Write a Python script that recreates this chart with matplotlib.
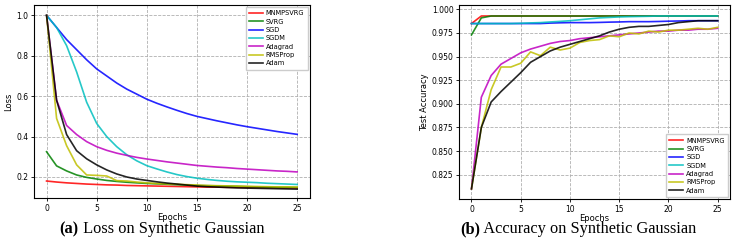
import numpy as np
import matplotlib
matplotlib.use("Agg")
import matplotlib.pyplot as plt

# epochs 0..25, values
epochs = list(range(26))
methods = ["MNMPSVRG", "SVRG", "SGD", "SGDM", "Adagrad", "RMSProp", "Adam"]
colors = ["r", "g", "b", "c", "m", "y", "k"]

loss_mnmpsvrg = [0.180, 0.175, 0.171, 0.168, 0.165, 0.163, 0.161, 0.160, 0.158, 0.157,
                 0.156, 0.155, 0.154, 0.153, 0.152, 0.151, 0.150, 0.150, 0.149, 0.149,
                 0.148, 0.148, 0.147, 0.147, 0.146, 0.146]
loss_svrg = [0.325, 0.255, 0.230, 0.210, 0.198, 0.190, 0.183, 0.178, 0.174, 0.171,
             0.168, 0.166, 0.164, 0.162, 0.160, 0.158, 0.157, 0.156, 0.155, 0.154,
             0.152, 0.151, 0.150, 0.149, 0.149, 0.148]
loss_sgd = [1.000, 0.940, 0.880, 0.830, 0.780, 0.735, 0.700, 0.665, 0.635, 0.610,
            0.585, 0.565, 0.547, 0.530, 0.514, 0.500, 0.489, 0.478, 0.468, 0.458,
            0.449, 0.441, 0.433, 0.425, 0.418, 0.411]
loss_sgdm = [1.000, 0.940, 0.850, 0.720, 0.570, 0.465, 0.400, 0.350, 0.310, 0.280,
             0.256, 0.240, 0.225, 0.212, 0.202, 0.194, 0.188, 0.183, 0.179, 0.176,
             0.174, 0.172, 0.169, 0.167, 0.165, 0.163]
loss_adagrad = [1.000, 0.580, 0.455, 0.410, 0.375, 0.350, 0.332, 0.318, 0.307, 0.297,
                0.289, 0.282, 0.275, 0.269, 0.263, 0.257, 0.253, 0.249, 0.246, 0.242,
                0.239, 0.236, 0.233, 0.230, 0.228, 0.225]
loss_rmsprop = [1.000, 0.490, 0.355, 0.260, 0.210, 0.208, 0.205, 0.182, 0.180, 0.175,
                0.171, 0.168, 0.166, 0.164, 0.162, 0.160, 0.158, 0.157, 0.156, 0.155,
                0.154, 0.153, 0.152, 0.151, 0.151, 0.150]
loss_adam = [1.000, 0.580, 0.410, 0.330, 0.290, 0.260, 0.235, 0.215, 0.200, 0.190,
             0.183, 0.176, 0.170, 0.165, 0.160, 0.155, 0.152, 0.150, 0.148, 0.146,
             0.145, 0.144, 0.143, 0.142, 0.141, 0.140]

acc_mnmpsvrg = [0.985, 0.993, 0.993, 0.993, 0.993, 0.993, 0.993, 0.993, 0.993, 0.993,
                0.993, 0.993, 0.993, 0.993, 0.993, 0.993, 0.993, 0.993, 0.993, 0.993,
                0.993, 0.993, 0.993, 0.993, 0.993, 0.993]
acc_svrg = [0.973, 0.991, 0.993, 0.993, 0.993, 0.993, 0.993, 0.993, 0.993, 0.993,
            0.993, 0.993, 0.993, 0.993, 0.993, 0.993, 0.993, 0.993, 0.993, 0.993,
            0.993, 0.993, 0.993, 0.993, 0.993, 0.993]
acc_sgd = [0.985, 0.985, 0.985, 0.985, 0.985, 0.985, 0.985, 0.985, 0.9855, 0.9858,
           0.986, 0.986, 0.986, 0.9862, 0.9865, 0.9867, 0.987, 0.987, 0.987, 0.9872,
           0.9875, 0.9877, 0.988, 0.988, 0.988, 0.988]
acc_sgdm = [0.985, 0.985, 0.985, 0.985, 0.985, 0.9853, 0.9857, 0.986, 0.9867, 0.9873,
            0.988, 0.989, 0.990, 0.991, 0.9915, 0.992, 0.9923, 0.9925, 0.9927, 0.993,
            0.993, 0.993, 0.993, 0.993, 0.993, 0.993]
acc_adagrad = [0.810, 0.907, 0.930, 0.942, 0.948, 0.954, 0.958, 0.961, 0.964, 0.966,
               0.967, 0.969, 0.970, 0.971, 0.972, 0.973, 0.974, 0.975, 0.976, 0.977,
               0.977, 0.978, 0.978, 0.979, 0.979, 0.980]
acc_rmsprop = [0.810, 0.875, 0.915, 0.939, 0.939, 0.943, 0.955, 0.951, 0.960, 0.957,
               0.959, 0.965, 0.967, 0.968, 0.972, 0.971, 0.975, 0.974, 0.977, 0.976,
               0.978, 0.978, 0.979, 0.980, 0.979, 0.981]
acc_adam = [0.810, 0.875, 0.902, 0.913, 0.923, 0.933, 0.944, 0.950, 0.956, 0.960,
            0.963, 0.966, 0.969, 0.972, 0.976, 0.979, 0.981, 0.982, 0.982, 0.983,
            0.984, 0.986, 0.987, 0.988, 0.988, 0.988]

loss_all = [loss_mnmpsvrg, loss_svrg, loss_sgd, loss_sgdm, loss_adagrad, loss_rmsprop, loss_adam]
acc_all = [acc_mnmpsvrg, acc_svrg, acc_sgd, acc_sgdm, acc_adagrad, acc_rmsprop, acc_adam]

fig = plt.figure(figsize=(7.43, 2.40), dpi=100)
ax1 = fig.add_axes([0.0458, 0.175, 0.371, 0.804])
ax2 = fig.add_axes([0.618, 0.171, 0.3645, 0.808])

for ax, series, ylab in [(ax1, loss_all, "Loss"), (ax2, acc_all, "Test Accuracy")]:
    for name, col, vals in zip(methods, colors, series):
        ax.plot(epochs, vals, color=col, lw=1.2, alpha=0.85, label=name)
    ax.grid(True, linestyle="--", color="#b0b0b0", lw=0.6)
    ax.set_xlabel("Epochs", fontsize=6, labelpad=0)
    ax.set_ylabel(ylab, fontsize=6, labelpad=2)
    ax.tick_params(labelsize=5.5, length=2.5, pad=1.5, width=0.6)
    ax.set_xticks([0, 5, 10, 15, 20, 25])
    for s in ax.spines.values():
        s.set_linewidth(0.8)

ax1.set_ylim(0.096, 1.051)
ax1.set_yticks([0.2, 0.4, 0.6, 0.8, 1.0])
ax2.set_ylim(0.7993, 1.0046)
ax2.set_yticks([0.825, 0.85, 0.875, 0.9, 0.925, 0.95, 0.975, 1.0])
ax2.set_yticklabels(["0.825", "0.850", "0.875", "0.900", "0.925", "0.950", "0.975", "1.000"])

leg_kw = dict(fontsize=4.8, handlelength=2.0, labelspacing=0.35, borderpad=0.5,
              handletextpad=0.5, fancybox=False, framealpha=1, edgecolor="#cccccc",
              borderaxespad=0.3)
l1 = ax1.legend(loc="upper right", **leg_kw)
l2 = ax2.legend(loc="lower right", **leg_kw)

# captions: bold label + regular text, serif
def caption(xc, tag, rest):
    fig.canvas.draw()
    r = fig.canvas.get_renderer()
    t1 = fig.text(0, 0.045, tag, fontsize=11.8, family="Liberation Serif",
                  weight="bold", va="center")
    t2 = fig.text(0, 0.045, " " + rest, fontsize=11.8, family="Liberation Serif",
                  va="center")
    w1 = t1.get_window_extent(r).width / fig.bbox.width
    w2 = t2.get_window_extent(r).width / fig.bbox.width
    x0 = xc - (w1 + w2) / 2
    t1.set_x(x0)
    t2.set_x(x0 + w1)

caption(0.218, "(a)", "Loss on Synthetic Gaussian")
caption(0.778, "(b)", "Accuracy on Synthetic Gaussian")

fig.savefig("out.png", dpi=100)
